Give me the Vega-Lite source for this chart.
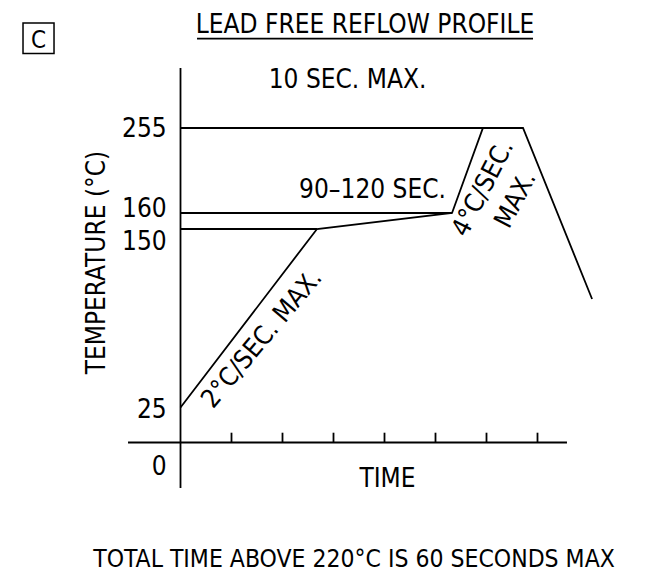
{
  "$schema": "https://vega.github.io/schema/vega-lite/v6.json",
  "width": 665,
  "height": 575,
  "padding": 0,
  "autosize": {"type": "none"},
  "background": "white",
  "config": {
    "view": {"stroke": null},
    "text": {"font": "DejaVu Sans Condensed, sans-serif", "fontSize": 26, "color": "black", "baseline": "alphabetic"}
  },
  "datasets": {
    "lines": [
      {"t": 0, "t2": 0, "temp": 322.1, "temp2": -32.5},
      {"t": -1.029, "t2": 7.578, "temp": 0, "temp2": 0},
      {"t": 1, "t2": 1, "temp": 0, "temp2": 7},
      {"t": 2, "t2": 2, "temp": 0, "temp2": 7},
      {"t": 3, "t2": 3, "temp": 0, "temp2": 7},
      {"t": 4, "t2": 4, "temp": 0, "temp2": 7},
      {"t": 5, "t2": 5, "temp": 0, "temp2": 7},
      {"t": 6, "t2": 6, "temp": 0, "temp2": 7},
      {"t": 7, "t2": 7, "temp": 0, "temp2": 7},
      {"t": 0, "t2": 5.93, "temp": 255, "temp2": 255},
      {"t": 0, "t2": 5.324, "temp": 160, "temp2": 160},
      {"t": 0, "t2": 2.676, "temp": 150, "temp2": 150},
      {"t": 0.324, "t2": 6.912, "temp": 355, "temp2": 355}
    ],
    "profile": [
      {"t": 0, "temp": 25},
      {"t": 2.676, "temp": 150},
      {"t": 5.324, "temp": 160},
      {"t": 5.93, "temp": 255},
      {"t": 6.716, "temp": 255},
      {"t": 8.07, "temp": 101}
    ],
    "notes": [
      {"label": "LEAD FREE REFLOW PROFILE", "t": 3.618, "temp": 361.2},
      {"label": "10 SEC. MAX.", "t": 3.275, "temp": 299.7},
      {"label": "90–120 SEC.", "t": 3.765, "temp": 176.8},
      {"label": "TIME", "t": 4.059, "temp": -31.8}
    ],
    "footer": [
      {"label": "TOTAL TIME ABOVE 220°C IS 60 SECONDS MAX", "t": 3.402, "temp": -88.9}
    ],
    "ticklabels": [
      {"label": "255", "temp": 244.9},
      {"label": "160", "temp": 157.5},
      {"label": "150", "temp": 135.3},
      {"label": "25", "temp": 17.5},
      {"label": "0", "temp": -23.2}
    ],
    "box": [
      {"label": "C", "t": -3.088, "t2": -2.48, "temp": 372.4, "temp2": 338.3, "tc": -2.784, "tb": 344.1}
    ],
    "ramp1": [
      {"label": "2°C/SEC. MAX.", "t": 1.715, "temp": 69.5}
    ],
    "ramp2": [
      {"label": "4°C/SEC.", "t": 6.069, "temp": 183.5},
      {"label": "MAX.", "t": 6.71, "temp": 170.8}
    ],
    "ylabel": [
      {"label": "TEMPERATURE (°C)", "t": -1.48, "temp": 126.5}
    ]
  },
  "layer": [
    {
      "data": {"name": "lines"},
      "mark": {"type": "rule", "color": "black", "strokeWidth": 1.8},
      "encoding": {
        "x": {"field": "t", "type": "quantitative", "axis": null, "scale": {"domain": [0, 7], "range": [180.5, 537.5], "zero": false, "nice": false}},
        "x2": {"field": "t2"},
        "y": {"field": "temp", "type": "quantitative", "axis": null, "scale": {"domain": [0, 25, 150, 160, 255], "range": [442.5, 407.5, 229, 213, 128], "zero": false, "nice": false}},
        "y2": {"field": "temp2"}
      }
    },
    {
      "data": {"name": "profile"},
      "mark": {"type": "line", "color": "black", "strokeWidth": 1.8},
      "encoding": {
        "x": {"field": "t", "type": "quantitative", "axis": null},
        "y": {"field": "temp", "type": "quantitative", "axis": null}
      }
    },
    {
      "data": {"name": "box"},
      "mark": {"type": "rect", "fill": "transparent", "stroke": "black", "strokeWidth": 1.5},
      "encoding": {
        "x": {"field": "t", "type": "quantitative", "axis": null},
        "x2": {"field": "t2"},
        "y": {"field": "temp", "type": "quantitative", "axis": null},
        "y2": {"field": "temp2"}
      }
    },
    {
      "data": {"name": "box"},
      "mark": {"type": "text", "align": "center", "fontSize": 24},
      "encoding": {
        "x": {"field": "tc", "type": "quantitative", "axis": null},
        "y": {"field": "tb", "type": "quantitative", "axis": null},
        "text": {"field": "label"}
      }
    },
    {
      "data": {"name": "notes"},
      "mark": {"type": "text", "align": "center"},
      "encoding": {
        "x": {"field": "t", "type": "quantitative", "axis": null},
        "y": {"field": "temp", "type": "quantitative", "axis": null},
        "text": {"field": "label"}
      }
    },
    {
      "data": {"name": "footer"},
      "mark": {"type": "text", "align": "center", "fontSize": 24.5},
      "encoding": {
        "x": {"field": "t", "type": "quantitative", "axis": null},
        "y": {"field": "temp", "type": "quantitative", "axis": null},
        "text": {"field": "label"}
      }
    },
    {
      "data": {"name": "ticklabels"},
      "mark": {"type": "text", "align": "right"},
      "encoding": {
        "x": {"datum": -0.27, "type": "quantitative", "axis": null},
        "y": {"field": "temp", "type": "quantitative", "axis": null},
        "text": {"field": "label"}
      }
    },
    {
      "data": {"name": "ramp1"},
      "mark": {"type": "text", "align": "center", "angle": 310},
      "encoding": {
        "x": {"field": "t", "type": "quantitative", "axis": null},
        "y": {"field": "temp", "type": "quantitative", "axis": null},
        "text": {"field": "label"}
      }
    },
    {
      "data": {"name": "ramp2"},
      "mark": {"type": "text", "align": "center", "angle": 297.3},
      "encoding": {
        "x": {"field": "t", "type": "quantitative", "axis": null},
        "y": {"field": "temp", "type": "quantitative", "axis": null},
        "text": {"field": "label"}
      }
    },
    {
      "data": {"name": "ylabel"},
      "mark": {"type": "text", "align": "center", "angle": 270},
      "encoding": {
        "x": {"field": "t", "type": "quantitative", "axis": null},
        "y": {"field": "temp", "type": "quantitative", "axis": null},
        "text": {"field": "label"}
      }
    }
  ]
}
